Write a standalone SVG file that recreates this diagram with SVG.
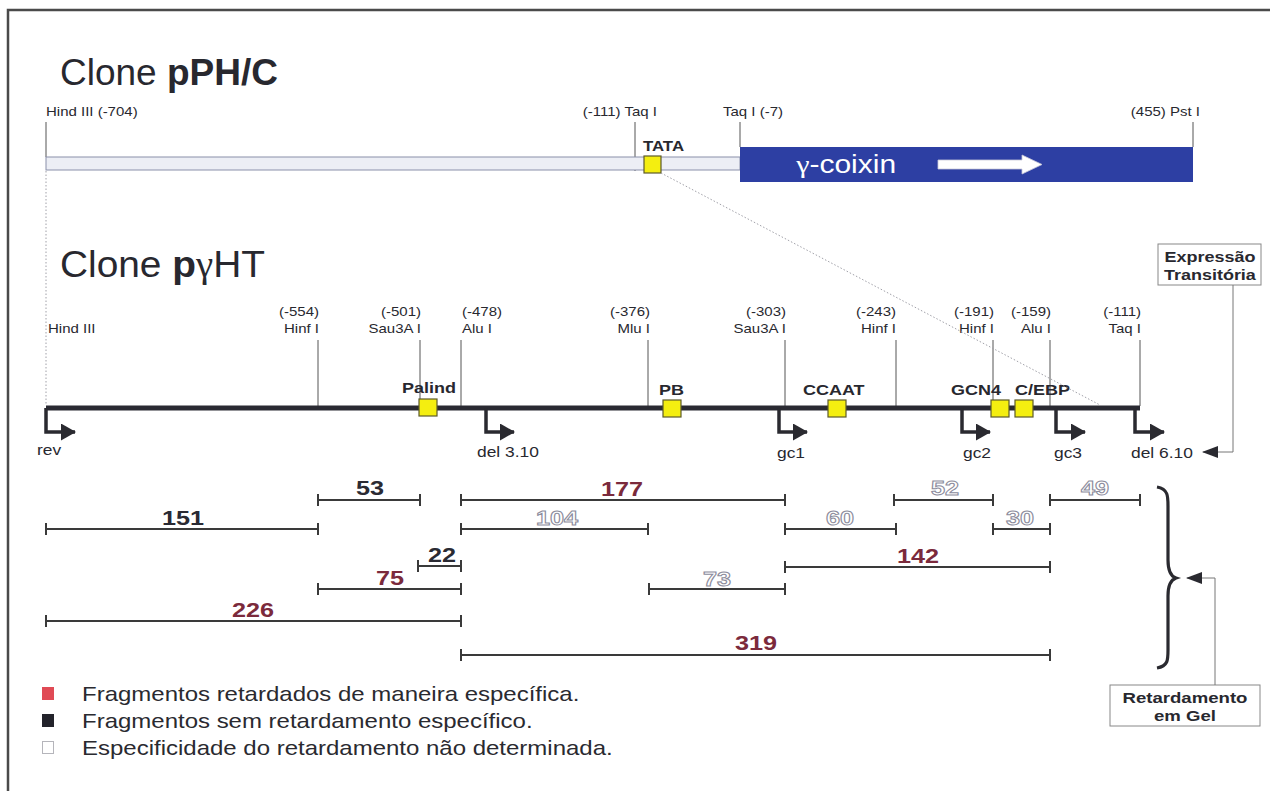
<svg xmlns="http://www.w3.org/2000/svg" width="1270" height="791" viewBox="0 0 1270 791">
<style>
text{font-family:"Liberation Sans",Arial,sans-serif;fill:#28282f;transform-box:fill-box;transform:scaleX(1.2);transform-origin:0 0}
.e{text-anchor:end;transform-origin:100% 0}
.m{text-anchor:middle;transform-origin:50% 0}
.title{font-size:37px;transform:scaleX(1.0)}
.g{font-family:"Liberation Serif","DejaVu Serif",serif;font-weight:normal}
.lab{font-size:12.5px}
.bl{font-size:15px;font-weight:bold}
.ar{font-size:14.5px}
.num{font-size:21px;font-weight:bold}
.nd{fill:#2a2a33}
.nr{fill:#7b2a3c}
.no{fill:#fff;stroke:#8c8c9c;stroke-width:1}
.leg{font-size:20px;fill:#2a2a30}
.site{stroke:#555;stroke-width:1;fill:none}
.frag{stroke:#3a3a3a;stroke-width:2;fill:none}
.box{fill:#f4ee10;stroke:#5c5a2a;stroke-width:1.2}
.bent{stroke:#2a2a30;stroke-width:3.5;fill:none}
.conn{stroke:#777;stroke-width:1;fill:none}
.dot{stroke:#a0a0a8;stroke-width:1;stroke-dasharray:1.5 2;fill:none}
</style>
<defs>
<marker id="head" markerUnits="userSpaceOnUse" viewBox="0 0 15 17" refX="14" refY="8.5" markerWidth="15" markerHeight="17" orient="auto">
<path d="M0,0 L15,8.5 L0,17 Z" fill="#2a2a30"/>
</marker>
<marker id="head2" markerUnits="userSpaceOnUse" viewBox="0 0 16 12" refX="15" refY="6" markerWidth="16" markerHeight="12" orient="auto">
<path d="M0,0 L16,6 L0,12 Z" fill="#2a2a30"/>
</marker>
</defs>
<rect width="1270" height="791" fill="#fff"/>
<path d="M8,791 V10 H1270" stroke="#4a4a4a" stroke-width="2.5" fill="none"/>

<g id="clone-pPHC">
<text class="title" x="60" y="85">Clone <tspan font-weight="bold">pPH/C</tspan></text>
<text class="lab" x="46" y="116">Hind III (-704)</text>
<text class="lab e" x="657" y="116">(-111) Taq I</text>
<text class="lab" x="723" y="116">Taq I (-7)</text>
<text class="lab e" x="1200" y="116">(455)  Pst I</text>
<path class="site" d="M46,122 V157 M635,122 V171 M740,122 V147 M1193,122 V147"/>
<rect x="46" y="157" width="694" height="13" fill="#eceef5" stroke="#8a90aa" stroke-width="1"/>
<text class="bl" x="643" y="151" style="font-size:14px">TATA</text>
<rect class="box" x="644" y="156" width="17" height="17"/>
<rect x="740" y="147" width="453" height="35" fill="#2d3fa3"/>
<text x="796" y="173" style="font-size:25px;fill:#fff"><tspan class="g" style="fill:#fff">γ</tspan>-coixin</text>
<path d="M938,160 H1022 V155 L1042,164.5 L1022,174 V169 H938 Z" fill="#fff" stroke="#c8c8d8" stroke-width="0.8"/>
</g>

<g id="clone-pgHT">
<text class="title" x="60" y="277" style="transform:scaleX(1.05)">Clone <tspan font-weight="bold">p</tspan><tspan class="g">γ</tspan>HT</text>
</g>

<g id="sites">
<text class="lab" x="48" y="333">Hind III</text>
<text class="lab e" x="319" y="316">(-554)</text><text class="lab e" x="319" y="333">Hinf I</text>
<text class="lab e" x="421" y="316">(-501)</text><text class="lab e" x="421" y="333">Sau3A I</text>
<text class="lab" x="462" y="316">(-478)</text><text class="lab" x="462" y="333">Alu I</text>
<text class="lab e" x="650" y="316">(-376)</text><text class="lab e" x="650" y="333">Mlu I</text>
<text class="lab e" x="786" y="316">(-303)</text><text class="lab e" x="786" y="333">Sau3A I</text>
<text class="lab e" x="896" y="316">(-243)</text><text class="lab e" x="896" y="333">Hinf I</text>
<text class="lab e" x="994" y="316">(-191)</text><text class="lab e" x="994" y="333">Hinf I</text>
<text class="lab e" x="1051" y="316">(-159)</text><text class="lab e" x="1051" y="333">Alu I</text>
<text class="lab e" x="1141" y="316">(-111)</text><text class="lab e" x="1141" y="333">Taq I</text>
<path class="site" d="M318,340 V406 M420,340 V399 M461,340 V406 M648,340 V406 M785,340 V406 M896,340 V406 M993,340 V406 M1050,340 V406 M1140,340 V406"/>
</g>

<g id="map-line">
<path d="M46,408 H1140" stroke="#2a2a32" stroke-width="5" fill="none"/>
</g>

<g id="elements">
<text class="bl" x="402" y="393">Palind</text><rect class="box" x="419" y="399" width="18" height="17"/>
<text class="bl" x="659" y="395">PB</text><rect class="box" x="663" y="400" width="18" height="17"/>
<text class="bl" x="803" y="395">CCAAT</text><rect class="box" x="828" y="400" width="18" height="17"/>
<text class="bl" x="951" y="395">GCN4</text><rect class="box" x="991" y="400" width="18" height="17"/>
<text class="bl" x="1015" y="395">C/EBP</text><rect class="box" x="1015" y="400" width="18" height="17"/>
</g>

<g id="promoters">
<path class="bent" d="M46,408 V432 H75" marker-end="url(#head)"/>
<path class="bent" d="M486,408 V432 H514" marker-end="url(#head)"/>
<path class="bent" d="M779,408 V432 H807" marker-end="url(#head)"/>
<path class="bent" d="M962,408 V432 H990" marker-end="url(#head)"/>
<path class="bent" d="M1056,408 V432 H1085" marker-end="url(#head)"/>
<path class="bent" d="M1135,408 V432 H1164" marker-end="url(#head)"/>
<text class="ar" x="37" y="455">rev</text>
<text class="ar" x="477" y="457">del 3.10</text>
<text class="ar" x="777" y="458">gc1</text>
<text class="ar" x="963" y="458">gc2</text>
<text class="ar" x="1054" y="458">gc3</text>
<text class="ar" x="1131" y="458">del 6.10</text>
</g>

<g id="expressao">
<rect x="1158" y="244" width="103" height="41" fill="#fff" stroke="#888" stroke-width="1"/>
<text class="bl m" x="1210" y="262">Expressão</text>
<text class="bl m" x="1210" y="280">Transitória</text>
</g>

<g id="fragments">
<path class="frag" d="M318,500 H420 M318,494 V506 M420,494 V506"/>
<path class="frag" d="M461,500 H785 M461,494 V506 M785,494 V506"/>
<path class="frag" d="M894,500 H993 M894,494 V506 M993,494 V506"/>
<path class="frag" d="M1050,500 H1140 M1050,494 V506 M1140,494 V506"/>
<path class="frag" d="M46,529 H318 M46,523 V535 M318,523 V535"/>
<path class="frag" d="M461,529 H648 M461,523 V535 M648,523 V535"/>
<path class="frag" d="M785,529 H896 M785,523 V535 M896,523 V535"/>
<path class="frag" d="M993,529 H1050 M993,523 V535 M1050,523 V535"/>
<path class="frag" d="M418,566 H461 M418,560 V572 M461,560 V572"/>
<path class="frag" d="M785,567 H1050 M785,561 V573 M1050,561 V573"/>
<path class="frag" d="M318,589 H461 M318,583 V595 M461,583 V595"/>
<path class="frag" d="M649,589 H785 M649,583 V595 M785,583 V595"/>
<path class="frag" d="M46,621 H461 M46,615 V627 M461,615 V627"/>
<path class="frag" d="M461,655 H1050 M461,649 V661 M1050,649 V661"/>
<text class="num nd m" x="370" y="495">53</text>
<text class="num nr m" x="622" y="496">177</text>
<text class="num no m" x="945" y="495">52</text>
<text class="num no m" x="1095" y="495">49</text>
<text class="num nd m" x="183" y="525">151</text>
<text class="num no m" x="557" y="525">104</text>
<text class="num no m" x="840" y="525">60</text>
<text class="num no m" x="1020" y="525">30</text>
<text class="num nd m" x="442" y="562">22</text>
<text class="num nr m" x="918" y="563">142</text>
<text class="num nr m" x="390" y="585">75</text>
<text class="num no m" x="717" y="586">73</text>
<text class="num nr m" x="253" y="617">226</text>
<text class="num nr m" x="756" y="650">319</text>
</g>

<g id="brace">
<path d="M1157,487 C1168,489 1168,496 1168,506 V560 C1168,570 1170,576 1176,578 C1170,580 1168,586 1168,596 V650 C1168,660 1168,666 1157,668" stroke="#2a2a30" stroke-width="3.2" fill="none"/>
</g>

<g id="retardamento">
<rect x="1110" y="685" width="150" height="41" fill="#fff" stroke="#888" stroke-width="1"/>
<text class="bl m" x="1185" y="703" style="font-size:15.5px">Retardamento</text>
<text class="bl m" x="1185" y="721" style="font-size:15.5px">em Gel</text>
</g>

<g id="legend">
<rect x="42" y="687" width="12" height="13" fill="#e04a55"/>
<rect x="42" y="714" width="12" height="13" fill="#23232b"/>
<rect x="42.5" y="741.5" width="11" height="12" fill="#fff" stroke="#b5b5bb" stroke-width="1"/>
<text class="leg" x="82" y="701">Fragmentos retardados de maneira específica.</text>
<text class="leg" x="82" y="728">Fragmentos sem retardamento específico.</text>
<text class="leg" x="82" y="755">Especificidade do retardamento não determinada.</text>
</g>

<g id="connectors">
<path class="dot" d="M46,171 V405"/>
<path class="dot" d="M661,173 L1100,405"/>
<path class="conn" d="M1233,285 V452 H1203" marker-end="url(#head2)"/>
<path class="conn" d="M1215,685 V578 H1187" marker-end="url(#head2)"/>
</g>
</svg>
